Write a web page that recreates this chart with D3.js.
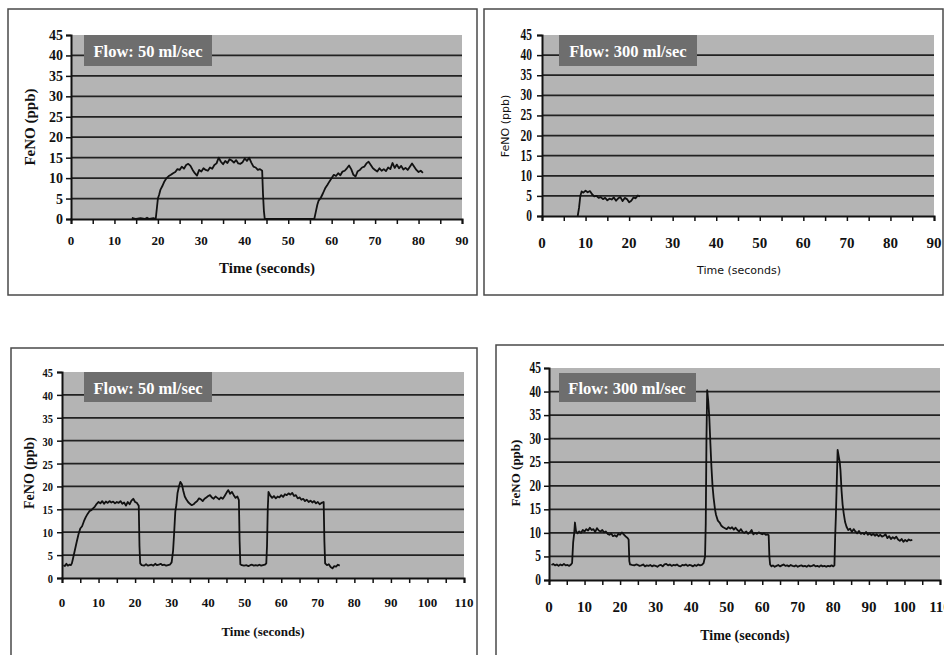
<!DOCTYPE html>
<html><head><meta charset="utf-8">
<script src="https://cdn.jsdelivr.net/npm/d3@7"></script>
<style>body{margin:0;background:#fff}svg{display:block}</style>
</head><body>
<svg id="c" width="944" height="655"></svg>
<script>
// ---------- DATA ----------
const panelTitles = ["Flow: 50 ml/sec", "Flow: 300 ml/sec", "Flow: 50 ml/sec", "Flow: 300 ml/sec"];
const xAxisTitle = "Time (seconds)";
const yAxisTitle = "FeNO (ppb)";
const yTicks = [0,5,10,15,20,25,30,35,40,45];
const xTicksTop = [0,10,20,30,40,50,60,70,80,90];
const xTicksBottom = [0,10,20,30,40,50,60,70,80,90,100,110];

const p1Time = [14,15,16,17,17.5,18,19,19.5,19.8,20,20.3,20.6,21,21.5,22,22.5,23,23.5,24,24.5,25,25.5,26,26.5,27,27.5,28,28.5,29,29.5,30,30.5,31,31.5,32,32.5,33,33.5,34,34.5,35,35.5,36,36.5,37,37.5,38,38.5,39,39.5,40,40.5,41,41.5,42,42.5,43,43.5,44,44.2,44.4,44.6,45,56,56.3,56.7,57,57.5,58,58.5,59,59.5,60,60.5,61,61.5,62,62.5,63,63.5,64,64.5,65,65.5,66,66.5,67,67.5,68,68.5,69,69.5,70,70.5,71,71.5,72,72.5,73,73.5,74,74.5,75,75.5,76,76.5,77,77.5,78,78.5,79,79.5,80,80.5,81];
const p1Value = [0.3,0,0.2,0,0.3,0,0.2,0,3,5,6,7.2,8,9.2,10,10.5,10.8,11.2,11.5,12.2,12,12.8,12.3,13.2,13.5,13,12,11.2,10.6,12,11.6,12.4,12,11.8,12.6,12.3,13.2,13.6,15,14,13.4,14.2,13.7,14.6,14.3,13.8,14.4,13.6,13.5,13.9,14.8,14.2,15,13.8,12.8,12.6,12,12.2,11.8,6,2,0,0,0,1.5,3.5,4.5,5.2,6.3,7.5,8.3,9.2,10,10.8,10.5,11.2,10.7,11.6,11.8,12.4,13.1,12.2,10.8,10.4,11.7,12,12.6,12.8,13.6,14,13.2,12.4,12,11.6,12.4,11.8,12.2,11.7,12.6,12.2,13.7,12.5,13.3,12.4,13,12.1,12.5,12,12.8,13.6,12.8,12,11.5,11.8,11.3];

const p2Time = [8.2,8.5,8.8,9.1,9.5,10,10.5,11,11.5,12,12.5,13,13.5,14,14.5,15,15.5,16,16.5,17,17.5,18,18.5,19,19.5,20,20.5,21,21.5,22,22.5];
const p2Value = [0,2,5,6.1,5.8,6.3,5.9,6.2,5.4,4.9,5,4.5,4.7,4.2,4.5,3.9,4.3,4.1,4.6,3.8,4.4,4.7,3.7,4.5,4.2,3.4,3.8,4.6,4.4,5.1,4.9];

const p3Time = [0.4,0.8,1.2,1.6,2,2.4,2.7,3,3.5,4,4.5,5,5.5,6,6.5,7,7.5,8,8.5,9,9.5,10,10.5,11,11.5,12,12.5,13,13.5,14,14.5,15,15.5,16,16.5,17,17.5,18,18.5,19,19.5,20,20.5,21,21.2,21.4,21.8,22.5,23,23.5,24,24.5,25,25.5,26,26.5,27,27.5,28,28.5,29,29.5,30,30.4,30.7,31,31.3,31.6,32,32.4,32.8,33.2,33.6,34,34.5,35,35.5,36,36.5,37,37.5,38,38.5,39,39.5,40,40.5,41,41.5,42,42.5,43,43.5,44,44.5,45,45.5,46,46.5,47,47.5,48,48.4,48.6,48.8,49.2,49.8,50.5,51,51.5,52,52.5,53,53.5,54,54.5,55,55.5,55.9,56.1,56.3,56.5,57,57.5,58,58.5,59,59.5,60,60.5,61,61.5,62,62.5,63,63.5,64,64.5,65,65.5,66,66.5,67,67.5,68,68.5,69,69.5,70,70.5,71,71.6,71.8,72,72.5,73,73.5,74,74.5,75,75.5,76];
const p3Value = [2.8,2.6,3.1,2.7,2.9,2.8,3.2,4.2,6,7.8,9.5,10.8,11.3,12.4,13.3,14,14.6,14.8,15.2,15.6,16.2,16.6,16.3,16.8,16.2,16.7,16.4,16.8,16.5,16.7,16.3,16.6,16.4,16.8,16.2,16.5,15.8,16.6,16.1,16.9,17.3,16.6,16.4,15.8,7,3.2,2.8,2.7,3,2.7,2.8,2.9,2.7,3.1,2.8,2.9,3.1,2.8,2.9,2.7,2.8,2.9,3.4,6,10,14.5,16,18.5,20,21,20.5,19,17.8,17.2,16.6,16.2,15.9,16.1,16.5,16.8,17.4,17.2,16.8,17.3,17.6,17.9,18.1,17.6,17.3,17.8,17.5,17.2,17.6,17.3,17.9,18.6,19.2,18.4,18.8,18.1,17.5,17.8,17,8,3,2.8,2.7,2.8,2.6,2.8,2.9,2.7,2.8,2.7,2.9,2.7,2.8,2.9,3.2,7,15,18.8,18,17.5,17.9,17.4,17.8,17.6,18.1,17.7,18.3,18.1,18.5,18.2,18.6,17.9,18.1,17.4,17.6,17.1,17.3,16.8,17.1,16.6,16.9,16.5,16.8,16.3,16.6,16.1,16.4,16.6,8,3.2,2.8,3,2.4,2.1,2.6,2.5,2.9,2.7];

const p4Time = [0.7,1.2,1.7,2.2,2.7,3.2,3.7,4.2,4.7,5.2,5.7,6.2,6.5,6.8,7.1,7.3,7.6,8,8.5,9,9.5,10,10.5,11,11.5,12,12.5,13,13.5,14,14.5,15,15.5,16,16.5,17,17.5,18,18.5,19,19.5,20,20.5,21,21.5,22,22.4,22.6,22.8,23.3,24,24.5,25,25.5,26,26.5,27,27.5,28,28.5,29,29.5,30,30.5,31,31.5,32,32.5,33,33.5,34,34.5,35,35.5,36,36.5,37,37.5,38,38.5,39,39.5,40,40.5,41,41.5,42,42.5,43,43.5,43.9,44.1,44.3,44.5,44.8,45.1,45.4,45.7,46,46.3,46.7,47,47.5,48,48.5,49,49.5,50,50.5,51,51.5,52,52.5,53,53.5,54,54.5,55,55.5,56,56.5,57,57.5,58,58.5,59,59.5,60,60.5,61,61.5,61.8,62,62.2,62.6,63,63.5,64,64.5,65,65.5,66,66.5,67,67.5,68,68.5,69,69.5,70,70.5,71,71.5,72,72.5,73,73.5,74,74.5,75,75.5,76,76.5,77,77.5,78,78.5,79,79.5,80,80.3,80.5,80.7,81,81.2,81.5,81.8,82,82.3,82.6,82.9,83.3,83.7,84.2,84.7,85.2,85.7,86.2,86.7,87.2,87.7,88.2,88.7,89.2,89.7,90.2,90.7,91.2,91.7,92.2,92.7,93.2,93.7,94.2,94.7,95.2,95.7,96.2,96.7,97.2,97.7,98.2,98.7,99.2,99.7,100.2,100.7,101.2,101.7,102.2];
const p4Value = [3.2,3.4,3.1,3.3,3.0,3.3,3.1,3.4,3.1,3.2,3.0,3.3,3.6,8,10,12.2,10.4,9.9,10.3,10,10.6,10.3,10.8,10.5,11.1,10.6,10.8,10.2,11,10.5,10.3,10.6,10.1,10.3,9.8,9.6,9.9,9.3,9.5,9.2,9.8,9.6,10.1,9.7,9.3,9,8.6,4,3.3,3.2,3.1,3.3,3.2,3.0,3.1,3.3,2.9,3.1,3.0,3.2,2.9,3.1,3.0,2.8,3.1,3.2,2.9,3.3,3.4,3.1,3.3,3.0,3.2,3.1,3.3,3.0,2.9,3.2,3.1,3.3,3.0,3.2,3.1,2.9,3.2,3.0,3.3,3.1,3.2,3.6,5,12,30,40.3,38,34.5,29,24,20,17.5,15,13.8,12.6,12.2,11.5,11.2,11,10.8,11.2,10.9,11.2,10.7,11.1,10.6,10.3,10.8,10.2,10,10.3,9.8,10.1,10.6,9.7,10,9.8,10.1,9.9,9.7,9.9,9.6,9.7,9.5,5,3.3,2.9,3.1,2.8,3.0,3.2,2.9,3.1,3.3,3.0,3.1,2.9,3.2,3.0,2.9,3.1,2.8,3.0,3.1,2.9,3.0,2.8,3.1,2.9,3.0,3.2,2.9,3.0,2.8,3.1,2.9,3.0,2.8,3.0,2.9,3.1,2.9,3.1,9,13.4,22,27.6,26.3,25,23.3,19,16,14.2,12.3,11.3,10.6,10.9,10.2,10.8,10.3,9.9,10.4,9.8,10,9.7,10.2,9.6,9.9,9.5,9.8,9.4,9.7,9.3,9.6,9.2,9.4,9.7,8.9,9.3,8.7,9.1,8.8,9.2,8.6,8.3,8.7,8.1,8.5,8.2,8.6,8.4,8.5];

// ---------- LAYOUT ----------
const serif = "'Liberation Serif','Times New Roman',serif";
const sans = "'DejaVu Sans','Liberation Sans',sans-serif";
const panels = [
  {title: panelTitles[0], time: p1Time, value: p1Value, xMax: 90, xTicks: xTicksTop,
   frame:[8,9,469,286], x0:71, x1:462, yTop:35, yBot:219,
   box:[84,35,128,31], boxText:[148,57],
   xLabY:245, xLabFont:serif, xLabSize:13, yLabRight:63, yLabSize:14, yLabScale:1,
   xTitle:[267,273,serif,15,"bold"], yTitle:[30,127,serif,15,"bold"]},
  {title: panelTitles[1], time: p2Time, value: p2Value, xMax: 90, xTicks: xTicksTop,
   frame:[484,9,459,286], x0:542, x1:934, yTop:35, yBot:216,
   box:[559,35,138,31], boxText:[628,57],
   xLabY:248, xLabFont:serif, xLabSize:15, yLabRight:532, yLabSize:16, yLabScale:0.72,
   xTitle:[739,274,sans,11,"normal"], yTitle:[505,126,sans,11,"normal"]},
  {title: panelTitles[2], time: p3Time, value: p3Value, xMax: 110, xTicks: xTicksBottom,
   frame:[11,348,466,320], x0:62, x1:464, yTop:372, yBot:578,
   box:[84,372,128,30], boxText:[148,394],
   xLabY:607, xLabFont:serif, xLabSize:13, yLabRight:53, yLabSize:13, yLabScale:0.8,
   xTitle:[263,636,serif,13,"bold"], yTitle:[29,473,serif,14,"bold"]},
  {title: panelTitles[3], time: p4Time, value: p4Value, xMax: 110, xTicks: xTicksBottom,
   frame:[496,345,460,320], x0:549, x1:940, yTop:368, yBot:580,
   box:[559,373,137,29], boxText:[627,394],
   xLabY:612, xLabFont:serif, xLabSize:15, yLabRight:541, yLabSize:16, yLabScale:0.72,
   xTitle:[745,640,serif,14,"bold"], yTitle:[515,473,serif,13,"bold"]}
];

const svg = d3.select("#c");

panels.forEach(p => {
  const g = svg.append("g");
  g.append("rect").attr("x",p.frame[0]).attr("y",p.frame[1]).attr("width",p.frame[2]).attr("height",p.frame[3])
    .attr("fill","#fff").attr("stroke","#4a4a4a").attr("stroke-width",1.5);

  const x = d3.scaleLinear().domain([0,p.xMax]).range([p.x0,p.x1]);
  const y = d3.scaleLinear().domain([0,45]).range([p.yBot,p.yTop]);

  g.append("rect").attr("x",p.x0).attr("y",p.yTop).attr("width",p.x1-p.x0).attr("height",p.yBot-p.yTop)
    .attr("fill","#b4b4b4");

  g.append("g").selectAll("line").data(yTicks.filter(v=>v>0 && v<45)).join("line")
    .attr("x1",p.x0).attr("x2",p.x1).attr("y1",d=>y(d)).attr("y2",d=>y(d))
    .attr("stroke","#222").attr("stroke-width",1.8);

  g.append("rect").attr("x",p.box[0]).attr("y",p.box[1]).attr("width",p.box[2]).attr("height",p.box[3])
    .attr("fill","#6e6e6e");
  g.append("text").attr("x",p.boxText[0]).attr("y",p.boxText[1]).attr("text-anchor","middle")
    .attr("font-family",serif).attr("font-weight","bold").attr("font-size",16.5).attr("fill","#fff")
    .text(p.title);

  const pts = p.time.map((t,i)=>[t,p.value[i]]);
  g.append("path").datum(pts)
    .attr("d", d3.line().x(d=>x(d[0])).y(d=>y(d[1])))
    .attr("fill","none").attr("stroke","#111").attr("stroke-width",1.8).attr("stroke-linejoin","round");

  const minorX = d3.range(0,p.xMax+0.1,5);
  const xa = g.append("g").attr("transform",`translate(0,${p.yBot})`)
    .call(d3.axisBottom(x).tickValues(minorX).tickSize(5).tickFormat(""));
  xa.select(".domain").attr("stroke","#111").attr("stroke-width",2);
  xa.selectAll(".tick line").attr("stroke","#111").attr("stroke-width",1.5);
  g.append("g").selectAll("text").data(p.xTicks).join("text")
    .attr("x",d=>x(d)).attr("y",p.xLabY).attr("text-anchor","middle")
    .attr("font-family",p.xLabFont).attr("font-weight","bold").attr("font-size",p.xLabSize).attr("fill","#111")
    .text(d=>d);

  const ya = g.append("g").attr("transform",`translate(${p.x0},0)`)
    .call(d3.axisLeft(y).tickValues(yTicks).tickSize(5).tickFormat(""));
  ya.select(".domain").attr("stroke","#111").attr("stroke-width",2);
  ya.selectAll(".tick line").attr("stroke","#111").attr("stroke-width",1.5);
  g.append("g").selectAll("text").data(yTicks).join("text")
    .attr("transform",d=>`translate(${p.yLabRight},${y(d)+5}) scale(${p.yLabScale},1)`)
    .attr("text-anchor","end")
    .attr("font-family",serif).attr("font-weight","bold").attr("font-size",p.yLabSize).attr("fill","#111")
    .text(d=>d);

  g.append("text").attr("x",p.xTitle[0]).attr("y",p.xTitle[1]).attr("text-anchor","middle")
    .attr("font-family",p.xTitle[2]).attr("font-size",p.xTitle[3]).attr("font-weight",p.xTitle[4]).attr("fill","#111")
    .text(xAxisTitle);
  g.append("text").attr("transform",`translate(${p.yTitle[0]},${p.yTitle[1]}) rotate(-90)`)
    .attr("text-anchor","middle").attr("dy","0.35em")
    .attr("font-family",p.yTitle[2]).attr("font-size",p.yTitle[3]).attr("font-weight",p.yTitle[4]).attr("fill","#111")
    .text(yAxisTitle);
});
</script>
</body></html>
